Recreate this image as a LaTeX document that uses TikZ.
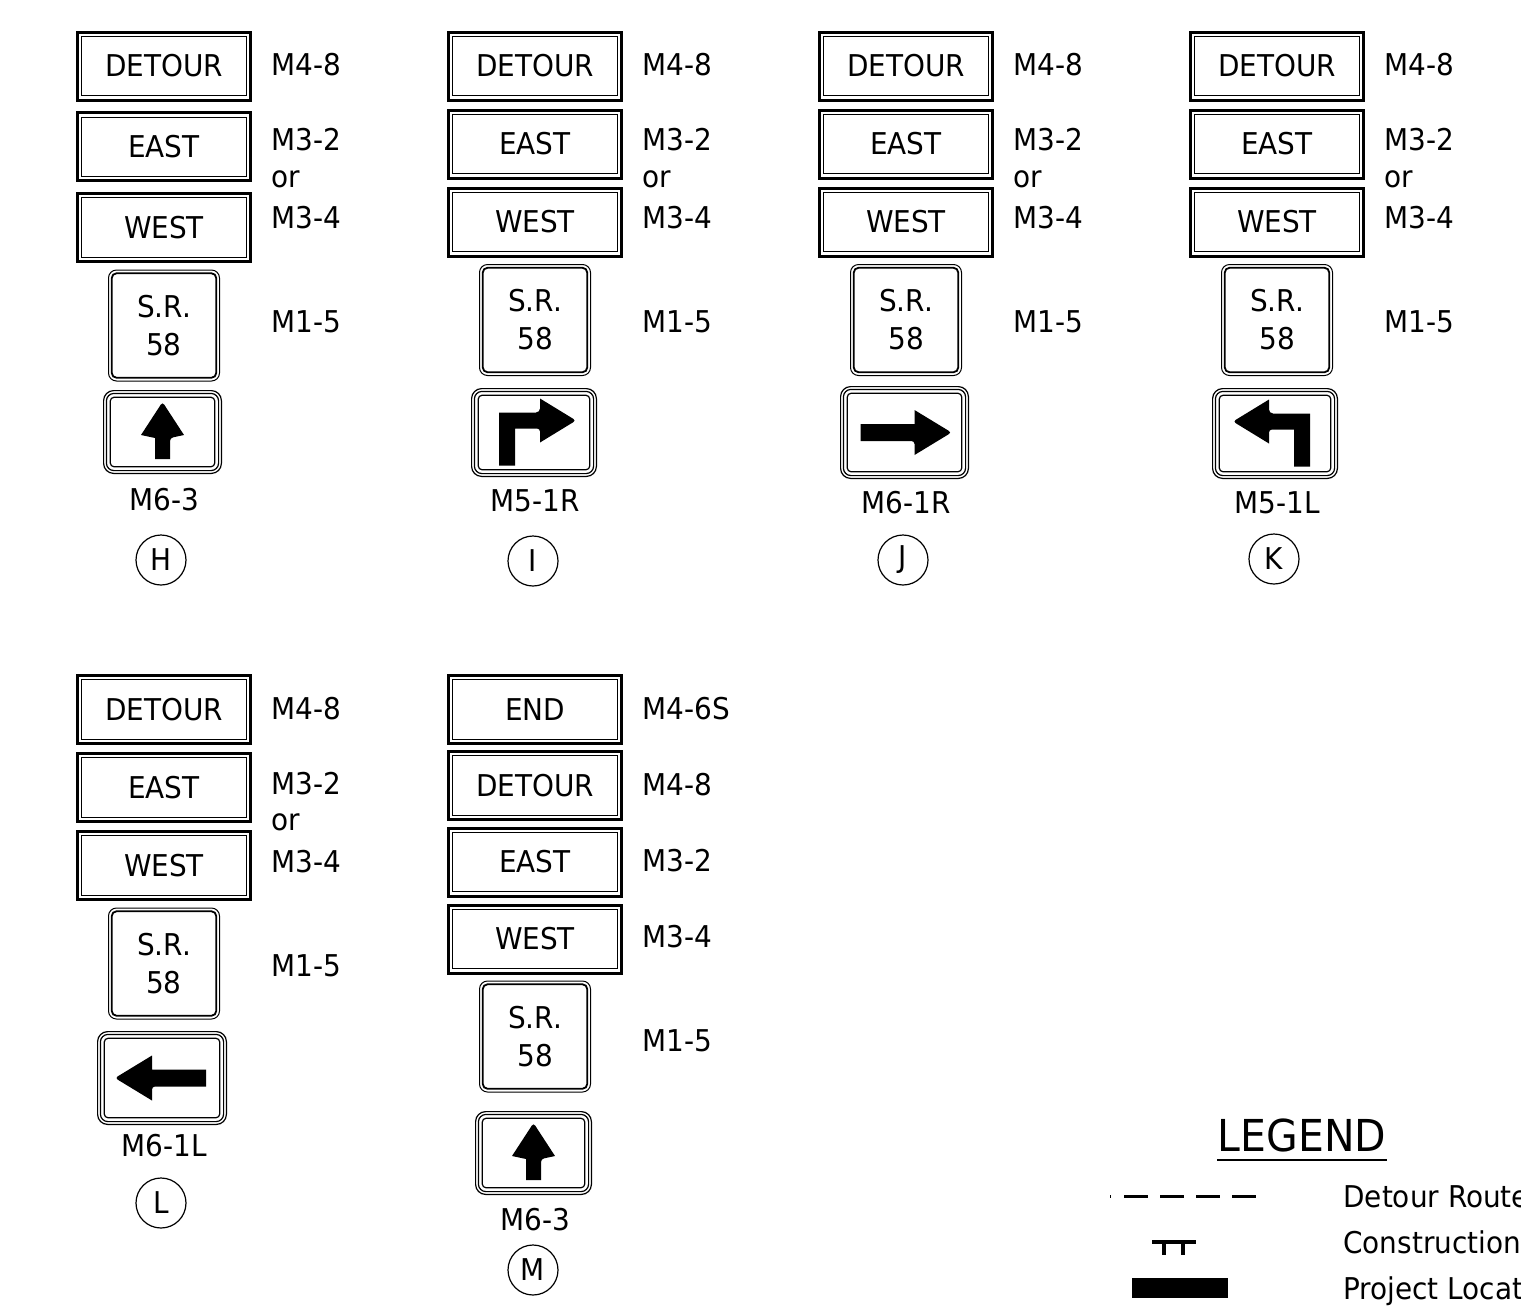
\documentclass[tikz,border=0pt]{standalone}
\usepackage{fontspec}
\setmainfont{DejaVu Sans}[FakeStretch=0.93]
\newcommand{\signfont}{\fontsize{15}{19}\selectfont}
\tikzset{
  guide/.style={draw, line width=1.5pt, minimum width=86.5pt, minimum height=34pt, inner sep=0pt,
    path picture={\draw[line width=0.5pt] ([shift={(2.2pt,-2.2pt)}]path picture bounding box.north west) rectangle ([shift={(-2.2pt,2.2pt)}]path picture bounding box.south east);}},
  shield/.style={draw, line width=0.5pt, rounded corners=4pt, minimum width=55.5pt, minimum height=55.5pt, inner sep=0pt, align=center,
    path picture={\draw[line width=0.9pt, rounded corners=2.5pt] ([shift={(1.6pt,-1.6pt)}]path picture bounding box.north west) rectangle ([shift={(-1.6pt,1.6pt)}]path picture bounding box.south east);}},
  plate/.style={draw, line width=0.6pt, rounded corners=5pt, inner sep=0pt,
    path picture={\draw[line width=0.6pt, rounded corners=3.8pt] ([shift={(1.4pt,-1.4pt)}]path picture bounding box.north west) rectangle ([shift={(-1.4pt,1.4pt)}]path picture bounding box.south east);
      \draw[line width=0.6pt, rounded corners=2pt] ([shift={(3.3pt,-3.3pt)}]path picture bounding box.north west) rectangle ([shift={(-3.3pt,3.3pt)}]path picture bounding box.south east);}},
  code/.style={anchor=west, inner sep=0pt},
  marker/.style={draw, circle, line width=0.6pt, minimum size=25pt, inner sep=0pt},
}
% detour, east, west and route signs with their codes
\newcommand{\guidestack}[4]{%
  \node[guide] (#1det) at (#2,#3) {DETOUR};
  \node[guide] (#1east) at (#2,#3+#4) {EAST};
  \node[guide] (#1west) at (#2,#3+2*#4) {WEST};
  \node[shield] (#1sr) at (#2,#3+2*#4+98) {S.R.\\58};
  \node[code] (#1c1) at (#2+107,#3-1) {M4-8};
  \node[code] (#1c2) at (#2+107,#3+74) {M3-2};
  \node[code] (#1c3) at (#2+107,#3+113) {or};
  \node[code] (#1c4) at (#2+107,#3+152) {M3-4};
  \node[code] (#1c5) at (#2+107,#3+256) {M1-5};
}
\newcommand{\thruglyph}[1]{\fill[shift={(#1)}] (0,-30) -- (21.5,3) [rounded corners=1.5pt] -- (7.5,6) [sharp corners] -- (7.5,27) -- (-7.5,27) -- (-7.5,6) -- (-21.5,3) [rounded corners=1.5pt] -- cycle;}
\newcommand{\sideglyph}[2]{\fill[shift={(#1)}, xscale=#2] (-44,-8.5) -- (10,-8.5) -- (10,-22.5) [rounded corners=1.5pt] -- (47,0) [sharp corners] -- (10,22.5) [rounded corners=1.5pt] -- (10,8.5) [sharp corners] -- (-44,8.5) -- cycle;}
\newcommand{\turnglyph}[2]{\fill[shift={(#1)}, xscale=#2] (-35,33) -- (-35,-20) [rounded corners=2pt] -- (6,-20) [sharp corners] -- (6,-34) [rounded corners=1.5pt] -- (42,-12) [sharp corners] -- (6,10) [rounded corners=1.5pt] -- (6,-4) [sharp corners] -- (-19,-4) -- (-19,33) -- cycle;}

\begin{document}
\begin{tikzpicture}[x=0.5pt, y=-0.5pt, font=\signfont]
  \useasboundingbox (0,0) rectangle (1521,1313);

  % H
  \guidestack{h}{164}{66}{80.75}
  \node[plate, minimum width=58.9pt, minimum height=41.4pt] (hplate) at (162.5,432) {};
  \thruglyph{hplate}
  \node (hcode) at (164,500) {M6-3};
  \node[marker] (hmark) at (161,560) {H};

  % I
  \guidestack{i}{535}{66}{78}
  \node[plate, minimum width=62.4pt, minimum height=43.9pt] (iplate) at (534,432.5) {};
  \turnglyph{iplate}{1}
  \node (icode) at (535,501) {M5-1R};
  \node[marker] (imark) at (533,561) {I};

  % J
  \guidestack{j}{906}{66}{78}
  \node[plate, minimum width=63.9pt, minimum height=45.9pt] (jplate) at (904.5,432.5) {};
  \sideglyph{jplate}{1}
  \node (jcode) at (906,503) {M6-1R};
  \node[marker] (jmark) at (903,560) {J};

  % K
  \guidestack{k}{1277}{66}{78}
  \node[plate, minimum width=62.4pt, minimum height=44.9pt] (kplate) at (1275,433.5) {};
  \turnglyph{kplate}{-1}
  \node (kcode) at (1277,503) {M5-1L};
  \node[marker] (kmark) at (1274,559) {K};

  % L
  \guidestack{l}{164}{709.5}{78}
  \node[plate, minimum width=64.4pt, minimum height=46.4pt] (lplate) at (162,1078) {};
  \sideglyph{lplate}{-1}
  \node (lcode) at (164,1146) {M6-1L};
  \node[marker] (lmark) at (161,1203) {L};

  % M
  \node[guide] (mend) at (535,709.5) {END};
  \node[guide] (mdet) at (535,785.5) {DETOUR};
  \node[guide] (meast) at (535,862) {EAST};
  \node[guide] (mwest) at (535,939) {WEST};
  \node[shield] (msr) at (535,1036.5) {S.R.\\58};
  \node[code] (mc1) at (642,709) {M4-6S};
  \node[code] (mc2) at (642,785) {M4-8};
  \node[code] (mc3) at (642,861) {M3-2};
  \node[code] (mc4) at (642,937) {M3-4};
  \node[code] (mc5) at (642,1041) {M1-5};
  \node[plate, minimum width=57.9pt, minimum height=41.4pt] (mplate) at (533.5,1153) {};
  \thruglyph{mplate}
  \node (mcode) at (535,1220) {M6-3};
  \node[marker] (mmark) at (533,1270) {M};

  % legend
  \node[anchor=base, inner sep=0pt, font=\fontsize{22}{26}\selectfont] (legend) at (1302,1151) {LEGEND};
  \draw[line width=1.1pt] ([yshift=-4.5pt]legend.base west) -- ([yshift=-4.5pt]legend.base east);
  \coordinate (routea) at (1110,1196);
  \coordinate (routeb) at (1256,1196);
  \draw[line width=1.5pt, dash pattern=on 0.5pt off 6.5pt on 12.2pt off 5.8pt on 12.2pt off 5.8pt on 12.2pt off 5.8pt on 12.2pt] (routea) -- (routeb);
  \coordinate (worka) at (1152,1242);
  \coordinate (workb) at (1196,1242);
  \draw[line width=1.6pt] (worka) -- (workb);
  \draw[line width=1.6pt] (1164,1242) -- (1164,1255);
  \draw[line width=1.6pt] (1183,1242) -- (1183,1255);
  \fill (1132,1278) rectangle (1228,1298);
  \node[anchor=base west, inner sep=0pt] (routetxt) at (1343,1207) {Detour Route};
  \node[anchor=base west, inner sep=0pt] (worktxt) at (1343,1253) {Construction};
  \node[anchor=base west, inner sep=0pt] (projtxt) at (1343,1299) {Project Location};
\end{tikzpicture}
\end{document}
